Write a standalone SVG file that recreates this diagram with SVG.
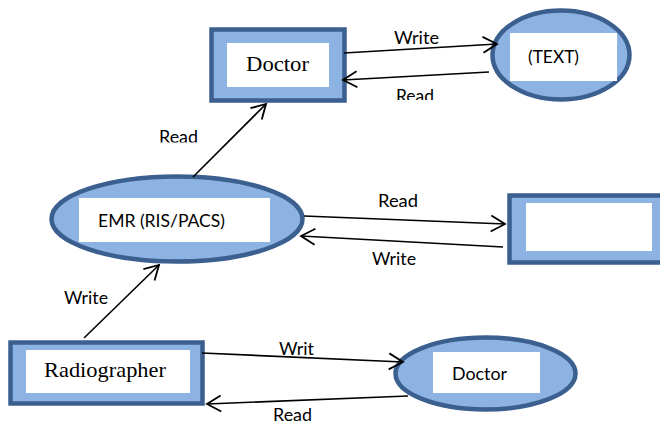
<svg xmlns="http://www.w3.org/2000/svg" width="660" height="424" viewBox="0 0 660 424">
  <style>
    .shape { fill: #8db3e2; stroke: #3b5f8e; stroke-width: 4.5; }
    .inner { fill: #ffffff; stroke: none; }
    .sans { font-family: Lato, "Liberation Sans", Arial, sans-serif; font-size: 17px; fill: #000; }
    .serif { font-family: "Liberation Serif", "Times New Roman", serif; font-size: 21px; fill: #000; }
    .link { fill: none; stroke: #000; stroke-width: 1.6; marker-end: url(#open); }
  </style>
  <defs>
    <marker id="open" markerUnits="userSpaceOnUse" markerWidth="18" markerHeight="20" refX="15" refY="9" orient="auto" overflow="visible">
      <path d="M1,1 L15,9 L1,17" fill="none" stroke="#000" stroke-width="1.8"/>
    </marker>
    <clipPath id="cutTop"><rect x="380" y="80" width="80" height="20"/></clipPath>
    <clipPath id="cutLeft"><rect x="150" y="120" width="60" height="22.5"/></clipPath>
  </defs>

  <!-- Doctor (top) -->
  <g id="doctor-top">
    <rect class="shape" x="211.5" y="29.5" width="133" height="71"/>
    <rect class="inner" x="227" y="43" width="102" height="44"/>
    <text class="serif" x="246" y="71" textLength="63" lengthAdjust="spacingAndGlyphs">Doctor</text>
  </g>

  <!-- (TEXT) -->
  <g id="text-store">
    <ellipse class="shape" cx="561" cy="55" rx="68.5" ry="44.5"/>
    <rect class="inner" x="510" y="33" width="107" height="48"/>
    <text class="sans" x="528" y="63" font-size="17.5" textLength="51" lengthAdjust="spacingAndGlyphs">(TEXT)</text>
  </g>

  <!-- EMR (RIS/PACS) -->
  <g id="emr">
    <ellipse class="shape" cx="177" cy="219" rx="125.5" ry="42.5"/>
    <rect class="inner" x="79" y="198" width="191" height="44"/>
    <text class="sans" x="98" y="227" font-size="17.5" textLength="127" lengthAdjust="spacingAndGlyphs">EMR (RIS/PACS)</text>
  </g>

  <!-- right-hand box -->
  <g id="right-box">
    <rect class="shape" x="509.5" y="195.5" width="162" height="67"/>
    <rect class="inner" x="526" y="203" width="126" height="48"/>
  </g>

  <!-- Radiographer -->
  <g id="radiographer">
    <rect class="shape" x="10.5" y="342.5" width="192" height="61"/>
    <rect class="inner" x="26" y="350" width="164" height="43"/>
    <text class="serif" x="44" y="377" textLength="122" lengthAdjust="spacingAndGlyphs">Radiographer</text>
  </g>

  <!-- Doctor (bottom) -->
  <g id="doctor-bottom">
    <ellipse class="shape" cx="485.5" cy="373.5" rx="90" ry="36"/>
    <rect class="inner" x="433" y="352" width="107" height="41"/>
    <text class="sans" x="452" y="380" font-size="17.5" textLength="55" lengthAdjust="spacingAndGlyphs">Doctor</text>
  </g>

  <!-- connectors and their labels -->
  <g id="connectors">
    <line class="link" x1="344" y1="53" x2="497" y2="44"/>
    <line class="link" x1="489" y1="72" x2="343" y2="80"/>
    <line class="link" x1="193" y1="177" x2="266" y2="104"/>
    <line class="link" x1="304" y1="216" x2="505" y2="224"/>
    <line class="link" x1="503" y1="247" x2="301" y2="236"/>
    <line class="link" x1="84" y1="338" x2="159" y2="265"/>
    <line class="link" x1="202" y1="353" x2="403" y2="362"/>
    <line class="link" x1="408" y1="396" x2="207" y2="404"/>

    <text class="sans" x="394" y="44" textLength="45" lengthAdjust="spacingAndGlyphs">Write</text>
    <text class="sans" x="396" y="101.5" textLength="38" lengthAdjust="spacingAndGlyphs" clip-path="url(#cutTop)">Read</text>
    <text class="sans" x="159" y="143" textLength="39" lengthAdjust="spacingAndGlyphs" clip-path="url(#cutLeft)">Read</text>
    <text class="sans" x="378" y="207" textLength="40" lengthAdjust="spacingAndGlyphs">Read</text>
    <text class="sans" x="372" y="265" textLength="44" lengthAdjust="spacingAndGlyphs">Write</text>
    <text class="sans" x="64" y="304" textLength="44" lengthAdjust="spacingAndGlyphs">Write</text>
    <text class="sans" x="279" y="355" textLength="35" lengthAdjust="spacingAndGlyphs">Writ</text>
    <text class="sans" x="273" y="421" textLength="39" lengthAdjust="spacingAndGlyphs">Read</text>
  </g>
</svg>
